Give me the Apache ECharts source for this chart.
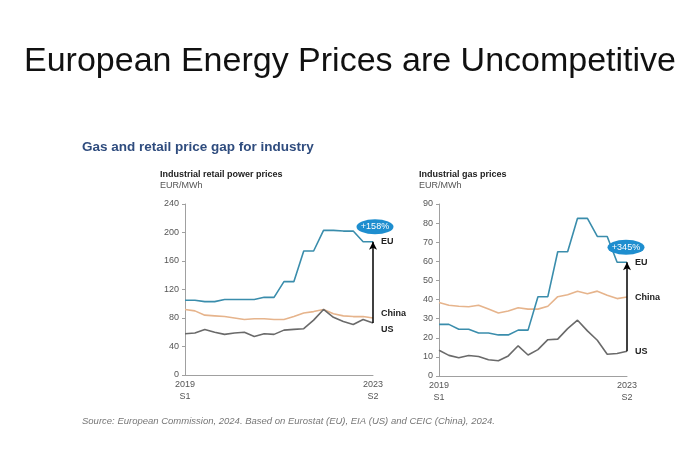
<!DOCTYPE html>
<html><head><meta charset="utf-8">
<script src="https://cdn.jsdelivr.net/npm/echarts@6/dist/echarts.min.js"></script>
<style>html,body{margin:0;padding:0;background:#fff}#c{width:700px;height:476px}</style>
</head><body><div id="c"></div>
<script>
// Periods: 2019 Q1 .. 2023 Q4 (each semester shown as two points)
const periods = ["2019 Q1","2019 Q2","2019 Q3","2019 Q4","2020 Q1","2020 Q2","2020 Q3","2020 Q4",
  "2021 Q1","2021 Q2","2021 Q3","2021 Q4","2022 Q1","2022 Q2","2022 Q3","2022 Q4",
  "2023 Q1","2023 Q2","2023 Q3","2023 Q4"];
const firstTick = "2019\nS1";
const lastTick = "2023\nS2";

// Industrial retail power prices, EUR/MWh
const powerEU    = [105,105,103,103,106,106,106,106,109,109,131,131,174,174,203,203,202,202,187,187];
const powerChina = [92,90,84,83,82,80,78,79,79,78,78,82,87,89,92,86,83,82,82,80];
const powerUS    = [58,59,64,60,57,59,60,54,58,57,63,64,65,77,92,81,75,71,78,73];
const powerTicks = {min:0, max:240, interval:40};
const powerGap = "+158%";

// Industrial gas prices, EUR/MWh
const gasEU    = [27,27,24.5,24.5,22.5,22.5,21.5,21.5,24,24,41.5,41.5,65,65,82.5,82.5,73,73,59.5,59.5];
const gasChina = [38.5,37,36.5,36.2,37,35,33,34,35.7,35,35,36.5,41.5,42.5,44.3,43,44.4,42.3,40.5,41.3];
const gasUS    = [13.5,10.8,9.5,10.7,10.2,8.5,8,10.5,15.8,11,13.8,19,19.3,24.8,29.2,23.6,18.7,11.4,11.8,13];
const gasTicks = {min:0, max:90, interval:10};
const gasGap = "+345%";

const C_EU = '#3A8DAC', C_CN = '#E6B48C', C_US = '#6A6A6A', C_BADGE = '#1E8ECF';
const last = periods.length - 1;
const FF = 'Liberation Sans, Arial, sans-serif';

function xAxis(gi){
  return {type:'category', gridIndex:gi, data:periods, boundaryGap:false,
    axisLine:{lineStyle:{color:'#A0A0A0', width:1}}, axisTick:{show:false},
    axisLabel:{interval:0, color:'#555', fontSize:9, fontFamily:FF, lineHeight:12, margin:4,
      formatter:(v,i)=> i===0 ? firstTick : (i===last ? lastTick : '')}};
}
function yAxis(gi, t){
  return {type:'value', gridIndex:gi, min:t.min, max:t.max, interval:t.interval,
    axisLine:{show:true, lineStyle:{color:'#A0A0A0', width:1}},
    axisTick:{show:true, length:3, lineStyle:{color:'#A0A0A0'}},
    splitLine:{show:false},
    axisLabel:{color:'#555', fontSize:9, fontFamily:FF, margin:6}};
}
function line(gi, name, data, color, lab, off){
  return {type:'line', name, xAxisIndex:gi, yAxisIndex:gi, data, symbol:'none',
    lineStyle:{color, width:1.6}, itemStyle:{color}, silent:true, animation:false,
    endLabel:{show:true, formatter:lab, color:'#222', fontSize:9, fontWeight:'bold', fontFamily:FF, distance:8, offset:off}};
}
function withArrowAndBadge(s, gi, lowArr, highArr, gap, badgeOff){
  s.markLine = {silent:true, symbol:['none','arrow'], symbolSize:[6,8], animation:false,
    label:{show:false}, lineStyle:{color:'#000', width:1.5, type:'solid'},
    data:[[{coord:[periods[last], lowArr[last]]},{coord:[periods[last], highArr[last]]}]]};
  s.markPoint = {silent:true, animation:false,
    data:[{coord:[periods[last], highArr[last]], symbol:'circle', symbolSize:[37,15], symbolOffset:badgeOff,
      itemStyle:{color:C_BADGE}, label:{show:true, position:'inside', formatter:gap, color:'#fff', fontSize:9, fontFamily:FF}}]};
  return s;
}

const series = [
  line(0,'China',powerChina,C_CN,'China',[0,-4]),
  line(0,'US',powerUS,C_US,'US',[0,7]),
  withArrowAndBadge(line(0,'EU',powerEU,C_EU,'EU',[0,0]),0,powerUS,powerEU,powerGap,[2,-15]),
  line(1,'China',gasChina,C_CN,'China',[0,0]),
  line(1,'US',gasUS,C_US,'US',[0,0]),
  withArrowAndBadge(line(1,'EU',gasEU,C_EU,'EU',[0,0]),1,gasUS,gasEU,gasGap,[-1,-15]),
];

const chart = echarts.init(document.getElementById('c'), null, {renderer:'canvas'});
chart.setOption({
  backgroundColor:'#fff',
  animation:false,
  title:[
    {text:'European Energy Prices are Uncompetitive', left:'center', top:45, padding:0,
      textStyle:{fontFamily:FF, fontSize:34, fontWeight:'normal', color:'#111'}},
    {text:'Gas and retail price gap for industry', left:82, top:140, padding:0,
      textStyle:{fontFamily:FF, fontSize:13.5, fontWeight:'bold', color:'#2F4C7E'}},
    {text:'Industrial retail power prices', left:160, top:170, padding:0,
      textStyle:{fontFamily:FF, fontSize:9, fontWeight:'bold', color:'#222'}},
    {text:'EUR/MWh', left:160, top:181, padding:0, textStyle:{fontFamily:FF, fontSize:9, fontWeight:'normal', color:'#555'}},
    {text:'Industrial gas prices', left:419, top:170, padding:0,
      textStyle:{fontFamily:FF, fontSize:9, fontWeight:'bold', color:'#222'}},
    {text:'EUR/MWh', left:419, top:181, padding:0, textStyle:{fontFamily:FF, fontSize:9, fontWeight:'normal', color:'#555'}},
    {text:'Source: European Commission, 2024. Based on Eurostat (EU), EIA (US) and CEIC (China), 2024.', left:82, top:416, padding:0,
      textStyle:{fontFamily:FF, fontSize:9.5, fontWeight:'normal', fontStyle:'italic', color:'#777'}}
  ],
  grid:[
    {left:185, top:204, width:188, height:171},
    {left:439, top:204, width:188, height:172}
  ],
  xAxis:[xAxis(0), xAxis(1)],
  yAxis:[yAxis(0,powerTicks), yAxis(1,gasTicks)],
  series
});
</script></body></html>
